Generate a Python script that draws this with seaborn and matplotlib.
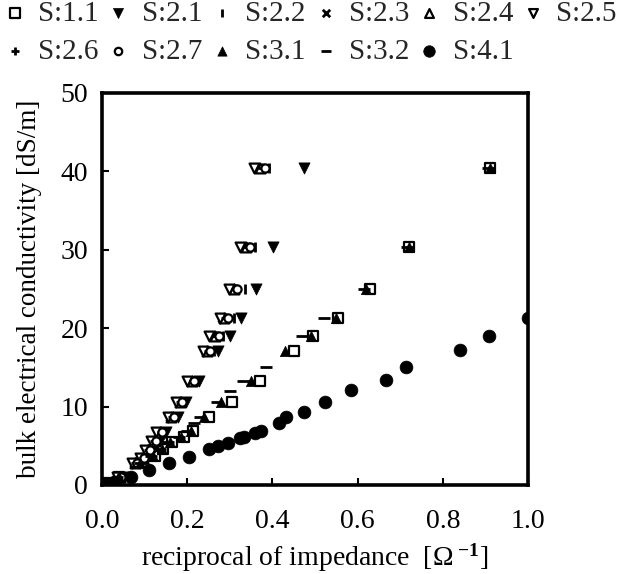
import matplotlib
matplotlib.use("Agg")
import matplotlib.pyplot as plt
import seaborn as sns
import pandas as pd

# ---------------- data ----------------
ec_levels = [0.2, 1.0, 2.8, 3.5, 4.5, 5.6, 6.8, 8.7, 10.6, 13.3, 17.1, 19.0, 21.3, 25.0, 30.4, 40.4]

s21_x = [0.020, 0.050, 0.090, 0.105, 0.120, 0.135, 0.150, 0.178, 0.198, 0.228, 0.272, 0.300, 0.326, 0.362, 0.402, 0.474]
s22_x = [0.016, 0.048, 0.085, 0.100, 0.115, 0.130, 0.145, 0.172, 0.192, 0.222, 0.262, 0.284, 0.310, 0.335, 0.358, 0.392]
s23_x = [0.012, 0.040, 0.075, 0.094, 0.106, 0.120, 0.133, 0.160, 0.180, 0.208, 0.243, 0.262, 0.282, 0.305, 0.333, 0.368]
s24_x = [0.014, 0.042, 0.078, 0.097, 0.108, 0.123, 0.136, 0.163, 0.183, 0.211, 0.246, 0.266, 0.287, 0.310, 0.338, 0.372]
s25_x = [0.010, 0.035, 0.070, 0.090, 0.100, 0.115, 0.127, 0.155, 0.173, 0.200, 0.236, 0.252, 0.276, 0.297, 0.325, 0.356]
s26_x = [0.015, 0.044, 0.080, 0.098, 0.110, 0.125, 0.140, 0.166, 0.186, 0.215, 0.250, 0.270, 0.292, 0.315, 0.343, 0.378]
s27_x = [0.013, 0.045, 0.082, 0.099, 0.112, 0.127, 0.142, 0.168, 0.188, 0.217, 0.254, 0.274, 0.295, 0.318, 0.347, 0.382]

s11_x = [0.010, 0.040, 0.096, 0.124, 0.143, 0.164, 0.192, 0.214, 0.250, 0.305, 0.370, 0.450, 0.495, 0.555, 0.630, 0.720, 0.910]
s11_y = [0.2, 1.0, 2.8, 3.7, 4.6, 5.5, 6.1, 6.9, 8.7, 10.6, 13.3, 17.1, 19.0, 21.3, 25.0, 30.4, 40.4]

s31_x = [0.010, 0.040, 0.090, 0.120, 0.140, 0.160, 0.185, 0.208, 0.240, 0.280, 0.350, 0.430, 0.490, 0.550, 0.620, 0.720, 0.910]
s31_y = [0.2, 1.0, 2.8, 3.7, 4.6, 5.5, 6.1, 6.9, 8.7, 10.6, 13.3, 17.1, 19.0, 21.3, 25.0, 30.4, 40.4]

s32_x = [0.010, 0.035, 0.090, 0.115, 0.135, 0.155, 0.180, 0.200, 0.215, 0.230, 0.270, 0.300, 0.330, 0.385, 0.470, 0.522, 0.615, 0.715, 0.905]
s32_y = [0.2, 1.0, 2.8, 3.7, 4.6, 5.5, 6.1, 6.9, 7.9, 8.7, 10.6, 12.0, 13.3, 15.0, 19.0, 21.3, 25.0, 30.4, 40.4]

s41_x = [0.010, 0.030, 0.068, 0.110, 0.157, 0.205, 0.250, 0.273, 0.295, 0.324, 0.333, 0.359, 0.373, 0.416, 0.432, 0.474, 0.523, 0.585, 0.667, 0.714, 0.840, 0.908, 1.000]
s41_y = [0.1, 0.4, 1.0, 1.9, 2.8, 3.6, 4.6, 5.0, 5.3, 6.0, 6.1, 6.6, 6.9, 7.9, 8.7, 9.3, 10.6, 12.1, 13.4, 15.0, 17.2, 19.0, 21.3]

legend_labels = ["S:1.1", "S:2.1", "S:2.2", "S:2.3", "S:2.4", "S:2.5",
                 "S:2.6", "S:2.7", "S:3.1", "S:3.2", "S:4.1"]
x_ticks = [0.0, 0.2, 0.4, 0.6, 0.8, 1.0]
y_ticks = [0, 10, 20, 30, 40, 50]

# ---------------- style ----------------
sns.set_theme(style="ticks")
plt.rcParams["font.family"] = ["Liberation Serif", "DejaVu Serif"]
plt.rcParams["mathtext.fontset"] = "custom"
plt.rcParams["mathtext.rm"] = "Liberation Serif"
plt.rcParams["mathtext.it"] = "Liberation Serif:italic"
plt.rcParams["mathtext.bf"] = "Liberation Serif:bold"

fig = plt.figure(figsize=(6.2, 5.74), dpi=100)
fig.patch.set_facecolor("white")
ax = fig.add_axes([102 / 620, 1 - 485 / 574, 426 / 620, 392 / 574])
ax.set_facecolor("white")

series = [
    (legend_labels[0], s11_x, s11_y, "s", "open", 55),
    (legend_labels[1], s21_x, ec_levels, "v", "filled", 65),
    (legend_labels[2], s22_x, ec_levels, "|", "line", 45),
    (legend_labels[3], s23_x, ec_levels, "x", "line", 35),
    (legend_labels[4], s24_x, ec_levels, "^", "open", 50),
    (legend_labels[5], s25_x, ec_levels, "v", "open", 50),
    (legend_labels[6], s26_x, ec_levels, "+", "line", 45),
    (legend_labels[7], s27_x, ec_levels, "o", "open", 35),
    (legend_labels[8], s31_x, s31_y, "^", "filled", 55),
    (legend_labels[9], s32_x, s32_y, "_", "line", 70),
    (legend_labels[10], s41_x, s41_y, "o", "filled", 85),
]

for name, xs, ys, mk, kind, size in series:
    df = pd.DataFrame({"x": xs, "y": ys})
    if kind == "open":
        sns.scatterplot(data=df, x="x", y="y", marker=mk, s=size, ax=ax,
                        facecolor="white", edgecolor="black", linewidth=1.6,
                        label=name, zorder=3)
    elif kind == "filled":
        sns.scatterplot(data=df, x="x", y="y", marker=mk, s=size, ax=ax,
                        color="black", edgecolor="black", linewidth=0.5,
                        label=name, zorder=3)
    else:
        sns.scatterplot(data=df, x="x", y="y", marker=mk, s=size, ax=ax,
                        color="black", linewidth=2.0, label=name, zorder=3)

ax.set_xlim(0, 1.0)
ax.set_ylim(0, 50)
ax.set_xticks(x_ticks)
ax.set_xticklabels([f"{v:.1f}" for v in x_ticks])
ax.set_yticks(y_ticks)
ax.set_yticklabels([str(v) for v in y_ticks])
ax.tick_params(direction="in", length=5, width=1.5, labelsize=20,
               colors="black")
ax.tick_params(axis="x", pad=17)
ax.tick_params(axis="y", pad=10)
for sp in ax.spines.values():
    sp.set_visible(True)
    sp.set_linewidth(2.6)
    sp.set_color("black")

ax.set_xlabel(r"reciprocal of impedance  [$\Omega^{\ \mathbf{-1}}$]",
              fontsize=20, color="black")
ax.set_ylabel("bulk electrical conductivity [dS/m]", fontsize=19.5,
              color="black")
ax.xaxis.set_label_coords(0.5, -0.145)
ax.yaxis.set_label_coords(-0.14, 0.5)

handles, labels = ax.get_legend_handles_labels()
ax.get_legend().remove()
order = [0, 6, 1, 7, 2, 8, 3, 9, 4, 10, 5]
leg = fig.legend([handles[i] for i in order], [labels[i] for i in order],
                 ncol=6, loc="upper left", bbox_to_anchor=(0.0, 1.01),
                 frameon=False, fontsize=21, handlelength=0.6,
                 handletextpad=0.5, columnspacing=0.38, labelspacing=0.4,
                 markerscale=0.9, borderaxespad=0.0, borderpad=0.2)

fig.savefig("out.png", dpi=100, facecolor="white")
